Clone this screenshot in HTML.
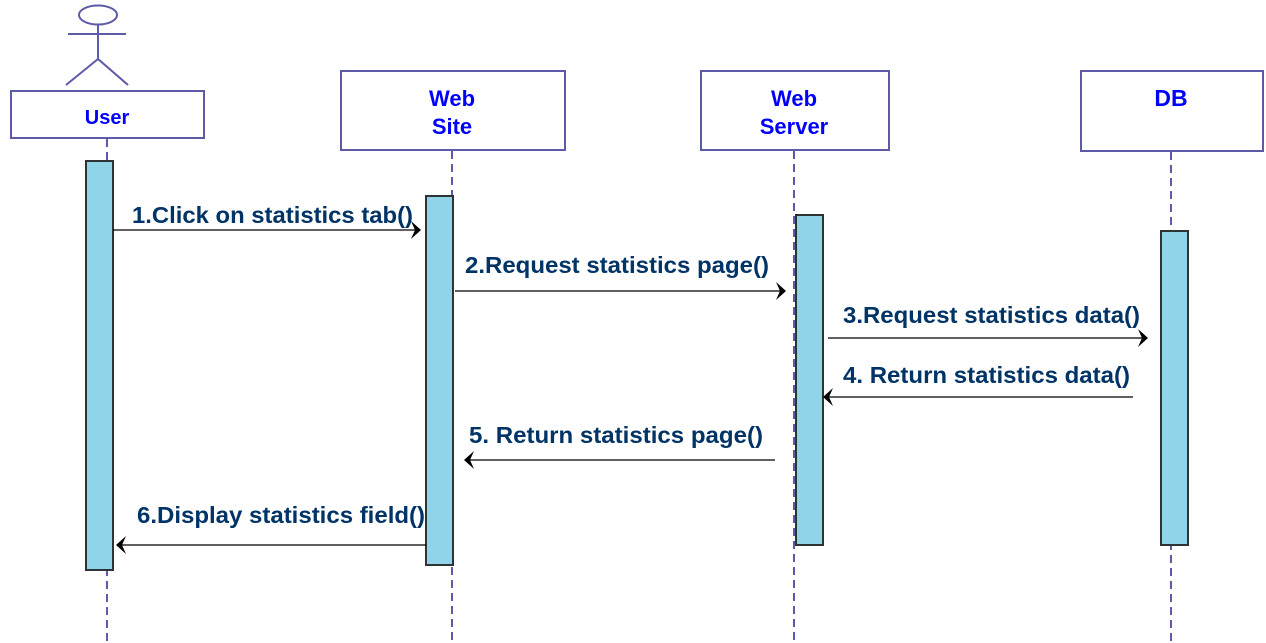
<!DOCTYPE html>
<html><head><meta charset="utf-8"><style>
html,body{margin:0;padding:0;background:#fff;width:1266px;height:643px;overflow:hidden}
svg{display:block}
.t{font-family:"Liberation Sans",Arial,sans-serif;font-weight:bold;}
</style></head><body>
<svg width="1266" height="643" viewBox="0 0 1266 643" xmlns="http://www.w3.org/2000/svg">
<g stroke="#5d5aa8" stroke-width="2" fill="none">
  <ellipse cx="98" cy="15" rx="19" ry="9.5"/>
  <line x1="98" y1="25" x2="98" y2="59"/>
  <line x1="68" y1="34" x2="126" y2="34"/>
  <line x1="98" y1="59" x2="66" y2="85"/>
  <line x1="98" y1="59" x2="128" y2="85"/>
  <rect x="11" y="91" width="193" height="47" fill="#fff"/>
  <rect x="341" y="71" width="224" height="79" fill="#fff"/>
  <rect x="701" y="71" width="188" height="79" fill="#fff"/>
  <rect x="1081" y="71" width="182" height="80" fill="#fff"/>
  <g stroke-dasharray="8,5">
    <line x1="107" y1="139" x2="107" y2="643"/>
    <line x1="452" y1="151" x2="452" y2="643"/>
    <line x1="794" y1="151" x2="794" y2="643"/>
    <line x1="1171" y1="152" x2="1171" y2="643"/>
  </g>
</g>
<g fill="#8fd4e8" stroke="#2d3436" stroke-width="2">
  <rect x="86" y="161" width="27" height="409"/>
  <rect x="426" y="196" width="27" height="369"/>
  <rect x="796" y="215" width="27" height="330"/>
  <rect x="1161" y="231" width="27" height="314"/>
</g>
<g class="t" fill="#0000ff" font-size="22" text-anchor="middle">
  <text x="107" y="124" font-size="20">User</text>
  <text x="452" y="106">Web</text>
  <text x="452" y="134">Site</text>
  <text x="794" y="106">Web</text>
  <text x="794" y="134">Server</text>
  <text x="1171" y="106" font-size="23">DB</text>
</g>
<g stroke="#000" stroke-width="1.3" fill="none">
  <line x1="113" y1="230" x2="420" y2="230"/>
  <line x1="455" y1="291" x2="785" y2="291"/>
  <line x1="828" y1="338" x2="1147" y2="338"/>
  <line x1="1133" y1="397" x2="825" y2="397"/>
  <line x1="775" y1="460" x2="466" y2="460"/>
  <line x1="426" y1="545" x2="118" y2="545"/>
</g>
<g fill="#000">
  <path d="M421,230 L411,221 L415,230 L411,239 Z"/>
  <path d="M786,291 L776,282 L780,291 L776,300 Z"/>
  <path d="M1148,338 L1138,329 L1142,338 L1138,347 Z"/>
  <path d="M823,397 L833,388 L829,397 L833,406 Z"/>
  <path d="M464,460 L474,451 L470,460 L474,469 Z"/>
  <path d="M116,545 L126,536 L122,545 L126,554 Z"/>
</g>
<g class="t" fill="#003366" font-size="23">
  <text x="132" y="223" textLength="281" lengthAdjust="spacingAndGlyphs">1.Click on statistics tab()</text>
  <text x="465" y="273" textLength="304" lengthAdjust="spacingAndGlyphs">2.Request statistics page()</text>
  <text x="843" y="323" textLength="297" lengthAdjust="spacingAndGlyphs">3.Request statistics data()</text>
  <text x="843" y="383" textLength="287" lengthAdjust="spacingAndGlyphs">4. Return statistics data()</text>
  <text x="469" y="443" textLength="294" lengthAdjust="spacingAndGlyphs">5. Return statistics page()</text>
  <text x="137" y="523" textLength="288" lengthAdjust="spacingAndGlyphs">6.Display statistics field()</text>
</g>
</svg>
</body></html>
